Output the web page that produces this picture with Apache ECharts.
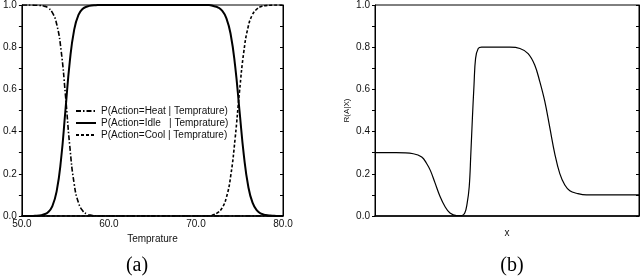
<!DOCTYPE html>
<html><head><meta charset="utf-8">
<script src="https://cdn.jsdelivr.net/npm/echarts@6/dist/echarts.min.js"></script>
<style>html,body{margin:0;padding:0;background:#fff}#c{width:640px;height:280px}</style>
</head><body><div id="c"></div>
<script>
// Left panel (a)
var temps = [50,50.5,51,51.5,52,52.5,53,53.5,54,54.5,55,55.5,56,56.5,57,57.5,58,58.5,59,59.5,60,60.5,61,61.5,62,62.5,63,63.5,64,64.5,65,65.5,66,66.5,67,67.5,68,68.5,69,69.5,70,70.5,71,71.5,72,72.5,73,73.5,74,74.5,75,75.5,76,76.5,77,77.5,78,78.5,79,79.5,80];
var heat = [1,1,1,0.999,0.998,0.995,0.987,0.964,0.909,0.786,0.574,0.332,0.154,0.063,0.024,0.009,0.003,0.001,
  0,0,0,0,0,0,0,0,0,0,0,0,0,0,0,0,0,0,0,0,0,0,0,0,0,0,
  0,0,0,0,0,0,0,0,0,0,0,0,0,0,0,0,0];
var idle = [0,0,0,0.001,0.002,0.007,0.018,0.047,0.119,0.269,0.5,0.731,0.881,0.953,0.982,0.993,0.998,0.999,
  1,1,1,1,1,1,1,1,1,1,1,1,1,1,1,1,1,1,1,1,1,1,1,1,1,1,
  0.995,0.989,0.973,0.937,0.858,0.711,0.5,0.289,0.142,0.063,0.027,0.011,0.005,0.002,0.001,0,0];
var cool = [0,0,0,0,0,0,0,0,0,0,0,0,0,0,0,0,0,0,
  0,0,0,0,0,0,0,0,0,0,0,0,0,0,0,0,0,0,0,0,0,0,0,0,0,0,
  0.006,0.016,0.038,0.088,0.192,0.368,0.589,0.779,0.897,0.955,0.981,0.993,0.997,0.999,1,1,1];
var leftXTicks = [50,60,70,80];
var legendNames = ['P(Action=Heat | Temprature)','P(Action=Idle   | Temprature)','P(Action=Cool | Temprature)'];

// Right panel (b)
var rx = [0,8,14.5,17.7,19.5,21,22.7,24.6,26.5,28.4,30.9,32.8,34.0,34.9,35.7,36.3,36.9,37.5,38.1,39.1,40.4,51.1,54.9,58.0,60.5,62.4,64.3,66.2,68.1,70.0,71.9,73.8,76.3,80.1,100];
var ry = [0.30,0.30,0.295,0.28,0.25,0.215,0.158,0.094,0.045,0.014,0.002,0.002,0.014,0.06,0.14,0.295,0.466,0.62,0.747,0.794,0.80,0.80,0.794,0.77,0.716,0.638,0.544,0.42,0.295,0.201,0.147,0.12,0.108,0.10,0.10];

function pairs(xs, ys){ return xs.map(function(x,i){ return [x, ys[i]]; }); }

var txt = '#111';
var font = 'Liberation Sans, Arial, sans-serif';
function yAxisL(gi, name){
  return {gridIndex: gi, type:'value', min:0, max:1, interval:0.2,
    name: name || '', nameLocation:'middle', nameGap:24, nameRotate:90,
    nameTextStyle:{fontSize:8, color:txt, fontFamily:font},
    axisLine:{show:true, lineStyle:{color:'#000', width:1}},
    axisTick:{show:true, length:3, lineStyle:{color:'#000'}},
    minorTick:{show:true, splitNumber:2, length:3, lineStyle:{color:'#000'}},
    splitLine:{show:false},
    axisLabel:{color:txt, fontSize:10, fontFamily:font, margin:5, formatter:function(v){return v.toFixed(1);}}};
}
function yAxisR(gi){
  return {gridIndex: gi, type:'value', position:'right', min:0, max:1, interval:0.2,
    axisLine:{show:true, lineStyle:{color:'#000', width:1}},
    axisTick:{show:true, inside:true, length:3, lineStyle:{color:'#000'}},
    minorTick:{show:true, splitNumber:2, length:3, lineStyle:{color:'#000'}},
    splitLine:{show:false}, axisLabel:{show:false}};
}

var chart = echarts.init(document.getElementById('c'), null, {renderer:'canvas'});
chart.setOption({
  animation:false,
  backgroundColor:'#fff',
  grid:[
    {left:19, top:3, width:264, height:213, show:true, borderColor:'#000', borderWidth:1, backgroundColor:'transparent'},
    {left:375, top:3, width:264, height:213, show:true, borderColor:'#000', borderWidth:1, backgroundColor:'transparent'}
  ],
  xAxis:[
    {gridIndex:0, type:'value', min:50, max:80, interval:10,
     name:'Temprature', nameLocation:'middle', nameGap:17,
     nameTextStyle:{fontSize:10, color:txt, fontFamily:font},
     axisLine:{show:true, lineStyle:{color:'#000', width:1.5}},
     axisTick:{show:false}, splitLine:{show:false},
     axisLabel:{color:txt, fontSize:10, fontFamily:font, margin:3,
       formatter:function(v){ return leftXTicks.indexOf(v) >= 0 ? v.toFixed(1) : ''; }}},
    {gridIndex:1, type:'value', min:0, max:100,
     name:'x', nameLocation:'middle', nameGap:12,
     nameTextStyle:{fontSize:10, color:txt, fontFamily:font},
     axisLine:{show:true, lineStyle:{color:'#000', width:1.5}},
     axisTick:{show:false}, splitLine:{show:false}, axisLabel:{show:false}}
  ],
  yAxis:[ yAxisL(0), yAxisR(0), yAxisL(1,'R(A|X)'), yAxisR(1) ],
  legend:{
    left:70, top:101, orient:'vertical', itemWidth:20, itemHeight:10, itemGap:2,
    itemStyle:{opacity:0},
    textStyle:{fontSize:10, color:txt, fontFamily:font},
    data:legendNames
  },
  series:[
    {name:legendNames[0], type:'line', xAxisIndex:0, yAxisIndex:0, data:pairs(temps, heat),
     smooth:true, symbol:'none', lineStyle:{color:'#000', width:1.6, type:[5,2,1.5,2]}, itemStyle:{color:'#000'}},
    {name:legendNames[1], type:'line', xAxisIndex:0, yAxisIndex:0, data:pairs(temps, idle),
     smooth:true, symbol:'none', lineStyle:{color:'#000', width:2}, itemStyle:{color:'#000'}},
    {name:legendNames[2], type:'line', xAxisIndex:0, yAxisIndex:0, data:pairs(temps, cool),
     smooth:true, symbol:'none', lineStyle:{color:'#000', width:1.6, type:[3,2]}, itemStyle:{color:'#000'}},
    {name:'R', type:'line', xAxisIndex:1, yAxisIndex:2, data:pairs(rx, ry),
     smooth:0.4, symbol:'none', lineStyle:{color:'#000', width:1.2}}
  ],
  graphic:[
    {type:'text', x:137, y:266, style:{text:'(a)', font:'20px "Liberation Serif", "DejaVu Serif", serif', fill:'#000', align:'center', verticalAlign:'middle'}},
    {type:'text', x:512, y:266, style:{text:'(b)', font:'20px "Liberation Serif", "DejaVu Serif", serif', fill:'#000', align:'center', verticalAlign:'middle'}}
  ]
});
</script></body></html>
